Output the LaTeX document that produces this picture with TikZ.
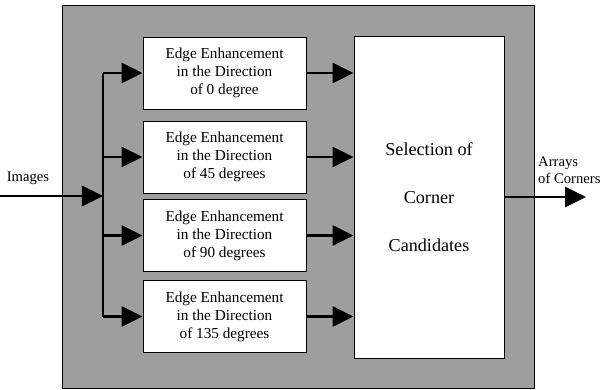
\documentclass[tikz,border=0pt]{standalone}
\usepackage{fontspec}
\setmainfont{Liberation Serif}
\usetikzlibrary{arrows.meta}
\tikzset{
  enhbox/.style={draw,fill=white,line width=0.8pt,minimum width=4.89cm,minimum height=2.16cm,
    inner sep=0pt,align=center,font=\fontsize{13}{15.3}\selectfont},
  selbox/.style={draw,fill=white,line width=0.8pt,minimum width=4.5cm,minimum height=9.66cm,
    inner sep=0pt,align=center,font=\fontsize{15.5}{41}\selectfont},
  flow/.style={line width=2.5pt,-{Triangle[length=6.3mm,width=6mm]}},
  lbl/.style={inner sep=0pt,font=\fontsize{12.5}{14.5}\selectfont},
}
\begin{document}
\begin{tikzpicture}[x=0.03cm,y=-0.03cm]
    \useasboundingbox (0,0) rectangle (612,390);
    \draw[line width=0.8pt,fill=black!38] (62,5) rectangle (534,388);
    % four edge filters
    \foreach \a/\yy/\txt in {0/73/of 0 degree,45/157/of 45 degrees,90/235.5/of 90 degrees,135/316.5/of 135 degrees}
        \node[enhbox] (e\a) at (224.5,\yy) {Edge Enhancement\\in the Direction\\\txt};
    \node[selbox] (sel) at (429,197) {Selection of\\Corner\\Candidates};
    \coordinate (bus) at (103,0);
    \coordinate (in) at (0,196);
    \coordinate (out) at (586,197);
    \node[lbl] (img) at (28,178) {Images};
    \node[lbl,anchor=west,align=left] (arr) at (538,170) {Arrays\\of Corners};
    \draw[line width=2.5pt] (e0.west -| bus) -- (e135.west -| bus);
    \draw[flow] (in) -- (in -| bus);
    \foreach \a in {0,45,90,135} {
        \draw[flow] (e\a.west -| bus) -- (e\a);
        \draw[flow] (e\a) -- (e\a -| sel.west);
    }
    \draw[flow] (sel) -- (out);
\end{tikzpicture}
\end{document}
